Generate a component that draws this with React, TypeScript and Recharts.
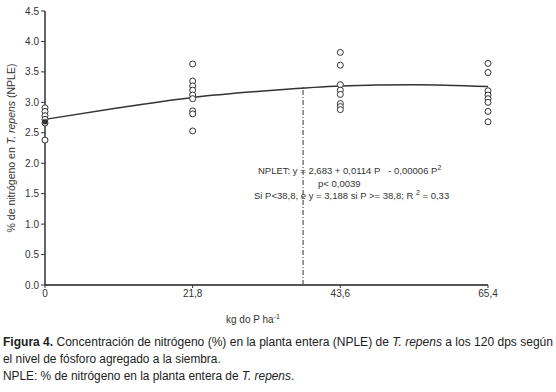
import { ComposedChart, Scatter, Line, XAxis, YAxis, ReferenceLine, Label } from 'recharts';

// kg P/ha dose levels and % N readings (NPLE) per plot
const doses = [0, 21.8, 43.6, 65.4];
const nAt0 = [2.91, 2.85, 2.78, 2.72, 2.66, 2.38];
const nAt21 = [3.63, 3.35, 3.27, 3.2, 3.12, 3.06, 2.86, 2.81, 2.53];
const nAt43 = [3.82, 3.61, 3.29, 3.2, 3.13, 2.98, 2.93, 2.88];
const nAt65 = [3.64, 3.49, 3.19, 3.12, 3.06, 3.0, 2.85, 2.68];

// fitted curve
const curveX = [0, 10.9, 21.8, 32.7, 43.6, 54.5, 65.4];
const curveY = [2.72, 2.91, 3.08, 3.19, 3.27, 3.29, 3.26];

const breakP = 38.1;
const breakTop = 3.27;
const meanAt0 = 2.68;

const yTicks = [0, 0.5, 1, 1.5, 2, 2.5, 3, 3.5, 4, 4.5];

const groups = [nAt0, nAt21, nAt43, nAt65];
const points = groups.flatMap((vals, i) => vals.map((y) => ({ x: doses[i], y })));
const curve = curveX.map((x, i) => ({ x, y: curveY[i] }));

const font = '"Liberation Sans", Arial, sans-serif';
const squeeze = 0.88;

const OpenCircle = (p: any) => (
  <circle cx={p.cx} cy={p.cy} r={3} fill="#fff" stroke="#333" strokeWidth={1} />
);
const MeanSquare = (p: any) => (
  <rect x={p.cx - 2.5} y={p.cy - 2.5} width={5} height={5} fill="#333" />
);

const YLabel = (props: any) => {
  const { viewBox } = props;
  const cx = 11;
  const cy = viewBox.y + viewBox.height / 2;
  return (
    <text
      x={cx}
      y={cy}
      transform={`rotate(-90 ${cx} ${cy})`}
      textAnchor="middle"
      dominantBaseline="central"
      fontSize={10.5}
      fill="#333"
      fontFamily={font}
    >
      % de nitrógeno en <tspan fontStyle="italic">T. repens</tspan> (NPLE)
    </text>
  );
};

const XLabel = () => (
  <text x={226} y={323} fontSize={10} fill="#333" fontFamily={font}>
    kg do P ha<tspan dy={-4} fontSize={7}>-1</tspan>
  </text>
);

export default function App() {
  return (
    <div style={{ position: 'fixed', left: 0, top: 0, width: 556, height: 392, background: '#fff' }}>
      <ComposedChart
        width={556}
        height={330}
        margin={{ top: 11, right: 68, bottom: 0, left: 0 }}
      >
        <XAxis
          dataKey="x"
          type="number"
          domain={[0, 65.4]}
          ticks={doses}
          tickFormatter={(v: number) => String(v).replace('.', ',')}
          tick={{ fontSize: 10, fill: '#333', fontFamily: font }}
          tickSize={3}
          tickLine={{ stroke: '#333' }}
          axisLine={{ stroke: '#555', strokeWidth: 2 }}
          height={45}
        >
          <Label content={XLabel} />
        </XAxis>
        <YAxis
          type="number"
          domain={[0, 4.5]}
          ticks={yTicks}
          tickFormatter={(v: number) => v.toFixed(1)}
          tick={{ fontSize: 10, fill: '#333', fontFamily: font }}
          tickSize={4}
          tickLine={{ stroke: '#333' }}
          axisLine={{ stroke: '#333', strokeWidth: 1.5 }}
          width={45}
        >
          <Label content={YLabel} />
        </YAxis>
        <ReferenceLine
          segment={[{ x: breakP, y: 0 }, { x: breakP, y: breakTop }]}
          stroke="#333"
          strokeWidth={1}
          strokeDasharray="5 2 1 2"
        />
        <Line
          data={curve}
          dataKey="y"
          type="monotone"
          stroke="#333"
          strokeWidth={1.5}
          dot={false}
          isAnimationActive={false}
        />
        <Scatter data={points} dataKey="y" shape={OpenCircle} isAnimationActive={false} />
        <Scatter data={[{ x: 0, y: meanAt0 }]} dataKey="y" shape={MeanSquare} isAnimationActive={false} />
      </ComposedChart>

      <svg
        width={556}
        height={392}
        style={{ position: 'absolute', left: 0, top: 0, pointerEvents: 'none' }}
        fontFamily={font}
      >
        <g fontSize={9.5} fill="#333">
          <text x={258} y={174}>
            NPLET: y = 2,683 + 0,0114 P{'\u00a0\u00a0\u00a0'}- 0,00006 P
            <tspan dy={-4} fontSize={7}>2</tspan>
          </text>
          <text x={318} y={187}>p&lt; 0,0039</text>
          <text x={254} y={199}>
            Si P&lt;38,8, e y = 3,188 si P &gt;= 38,8; R <tspan dy={-4} fontSize={7}>2</tspan>
            <tspan dy={4}> = 0,33</tspan>
          </text>
        </g>
        <g fontSize={13.5} fill="#222" transform={`translate(3 0) scale(${squeeze} 1)`}>
          <text x={0} y={346} textLength={550 / squeeze} lengthAdjust="spacingAndGlyphs">
            <tspan fontWeight="bold">Figura 4.</tspan> Concentración de nitrógeno (%) en la planta entera (NPLE) de{' '}
            <tspan fontStyle="italic">T. repens</tspan> a los 120 dps según
          </text>
          <text x={0} y={363}>el nivel de fósforo agregado a la siembra.</text>
          <text x={0} y={380}>
            NPLE: % de nitrógeno en la planta entera de <tspan fontStyle="italic">T. repens</tspan>.
          </text>
        </g>
      </svg>
    </div>
  );
}
